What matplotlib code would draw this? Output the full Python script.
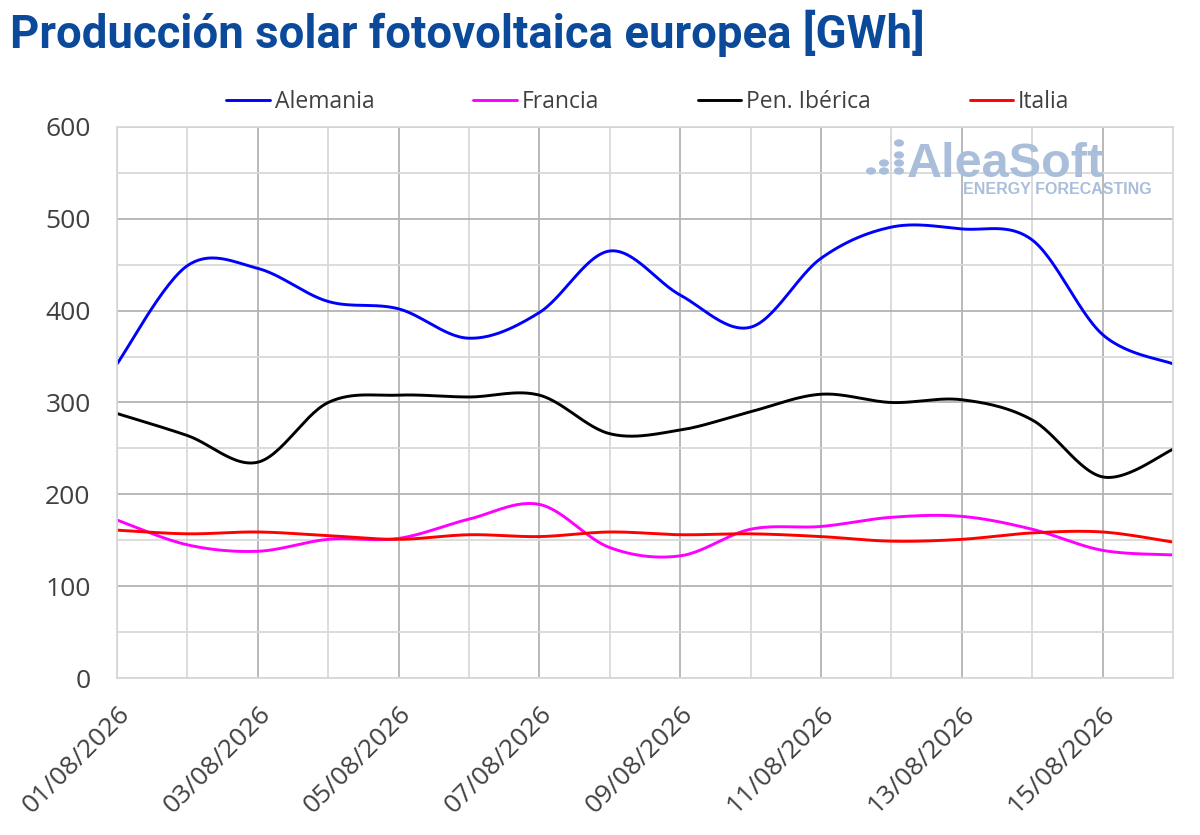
import numpy as np
import matplotlib
matplotlib.use("Agg")
import matplotlib.pyplot as plt
from matplotlib.ticker import MultipleLocator, FixedLocator
from matplotlib.patches import Circle

# ---- data ----
dates = ["01/08/2026", "02/08/2026", "03/08/2026", "04/08/2026", "05/08/2026",
         "06/08/2026", "07/08/2026", "08/08/2026", "09/08/2026", "10/08/2026",
         "11/08/2026", "12/08/2026", "13/08/2026", "14/08/2026", "15/08/2026",
         "16/08/2026"]
alemania = [342, 449, 446, 410, 402, 370, 398, 465, 417, 382, 457, 491, 489, 477, 374, 342]
francia = [172, 145, 138, 151, 152, 173, 189, 142, 133, 162, 165, 175, 176, 162, 139, 134]
pen_iberica = [288, 264, 235, 300, 308, 306, 308, 266, 270, 290, 309, 300, 303, 281, 219, 249]
italia = [161, 157, 159, 155, 151, 156, 154, 159, 156, 157, 154, 149, 151, 158, 159, 148]

series = [("Alemania", alemania, "#0000ff"),
          ("Francia", francia, "#ff00ff"),
          ("Pen. Ibérica", pen_iberica, "#000000"),
          ("Italia", italia, "#ff0000")]


def smooth(x, y, n=30):
    """Excel-like smoothed line: cubic Bezier with Catmull-Rom control points."""
    x = np.asarray(x, float)
    y = np.asarray(y, float)
    px = np.concatenate([[x[0]], x, [x[-1]]])
    py = np.concatenate([[y[0]], y, [y[-1]]])
    t = np.linspace(0, 1, n)[:, None]
    xs, ys = [], []
    for i in range(1, len(px) - 2):
        p0 = np.array([px[i], py[i]])
        p3 = np.array([px[i + 1], py[i + 1]])
        c1 = p0 + (np.array([px[i + 1], py[i + 1]]) - np.array([px[i - 1], py[i - 1]])) / 6
        c2 = p3 - (np.array([px[i + 2], py[i + 2]]) - np.array([px[i], py[i]])) / 6
        b = ((1 - t) ** 3) * p0 + 3 * ((1 - t) ** 2) * t * c1 + 3 * (1 - t) * t ** 2 * c2 + t ** 3 * p3
        xs.append(b[:, 0])
        ys.append(b[:, 1])
    return np.concatenate(xs), np.concatenate(ys)


plt.rcParams['font.family'] = ['Open Sans', 'DejaVu Sans']

fig = plt.figure(figsize=(12, 8.35), dpi=100)
ax = fig.add_axes([117 / 1200, 1 - 678 / 835, (1173 - 117) / 1200, (678 - 127) / 835])

x = np.arange(len(dates))
for name, vals, col in series:
    sx, sy = smooth(x, vals)
    ax.plot(sx, sy, color=col, lw=2.1, label=name, solid_capstyle='round')

ax.set_xlim(0, len(dates) - 1)
ax.set_ylim(0, 600)

ax.yaxis.set_major_locator(MultipleLocator(100))
ax.yaxis.set_minor_locator(MultipleLocator(50))
ax.xaxis.set_major_locator(FixedLocator(x[::2]))
ax.xaxis.set_minor_locator(FixedLocator(x))
ax.set_xticklabels(dates[::2])

ax.grid(True, which='major', axis='both', color='#b3b3b3', lw=1.3)
ax.grid(True, which='minor', axis='both', color='#d9d9d9', lw=1.3)
ax.set_axisbelow(True)

for s in ax.spines.values():
    s.set_color('#d9d9d9')
    s.set_linewidth(1.3)

ax.tick_params(axis='both', which='both', length=0)
ax.tick_params(axis='y', labelsize=19, labelcolor='#404040', pad=19)
ax.tick_params(axis='x', labelsize=19, labelcolor='#404040', pad=17)
for lab in ax.get_xticklabels():
    lab.set_rotation(45)
    lab.set_ha('right')
    lab.set_va('top')
    lab.set_rotation_mode('anchor')

leg = fig.legend(loc='center', bbox_to_anchor=(648 / 1200, 1 - 102 / 835), ncol=4, frameon=False,
                 fontsize=16.5, handlelength=1.9, handletextpad=0.22, columnspacing=4.3)
for t in leg.get_texts():
    t.set_color('#404040')

fig.text(10 / 1200, 1 - 33 / 835, "Producción solar fotovoltaica europea [GWh]",
         fontsize=32.8, fontweight='bold', color='#0b4a9a', family=['Roboto', 'DejaVu Sans'],
         va='center', ha='left')

# logo
logo_col = '#a9bedb'
fig.text(907 / 1200, 1 - 177 / 835, "AleaSoft", fontsize=35, fontweight='bold',
         color=logo_col, family=['Liberation Sans', 'DejaVu Sans'], ha='left', va='baseline')
fig.text(1152 / 1200, 1 - 194 / 835, "ENERGY FORECASTING", fontsize=11.5, fontweight='bold',
         color=logo_col, family=['Liberation Sans', 'DejaVu Sans'], ha='right', va='baseline')
dots = [(871, 171), (884, 163), (884, 171), (899, 143), (899, 155), (899, 163), (899, 171)]
for dx, dy in dots:
    fig.patches.append(Circle((dx / 1200, 1 - dy / 835), 4.3 / 1200, transform=fig.transFigure,
                              color=logo_col, zorder=5))

fig.savefig("out.png", dpi=100)
